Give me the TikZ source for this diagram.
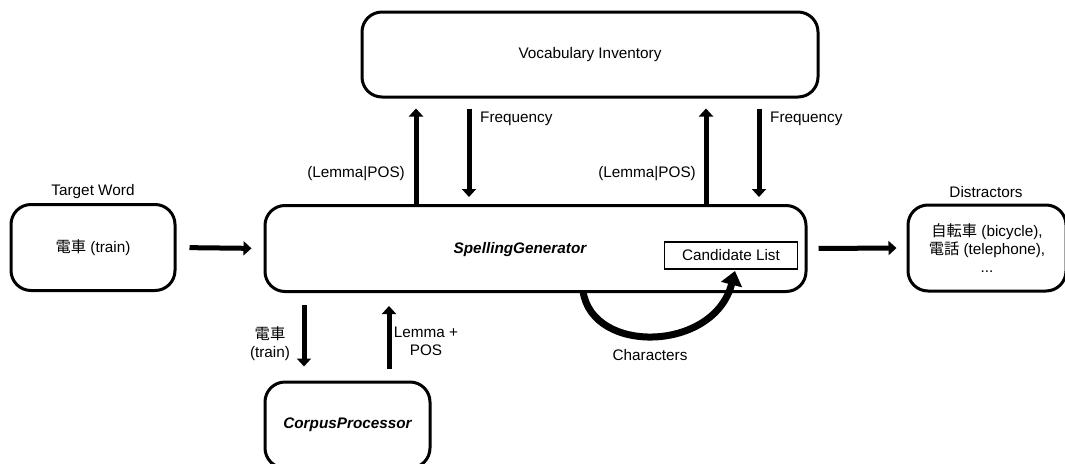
\documentclass[tikz,border=0pt]{standalone}
\usepackage{fontspec}
\setmainfont{Liberation Sans}
\newfontfamily\cjk{Noto Sans CJK JP}
\usetikzlibrary{arrows.meta}
\begin{document}
\begin{tikzpicture}[x=1pt,y=-1pt,
  every node/.style={font=\fontsize{15.3}{18}\selectfont, inner sep=0pt},
  box/.style={draw, line width=3pt, rounded corners=20pt, minimum width=#1, minimum height=86pt},
  arr/.style={line width=5pt, -{Triangle[length=8pt,width=14pt]}},
  bigarr/.style={line width=7pt, -{Triangle[length=14pt,width=21pt]}},
  lbl/.style={align=center}]
\useasboundingbox (0,0) rectangle (1065,463);
\fill[white] (0,0) rectangle (1065,463);
% boxes
\node[box=164pt] (target) at (93,247.5) {{\cjk 電車} (train)};
\node[box=541pt] (sg) at (535.5,248.5) {};
\node[font=\fontsize{15.3}{18}\selectfont\bfseries\itshape] (sgtext) at (520,250) {SpellingGenerator};
\node[box=456pt, minimum height=85pt] (vocab) at (590,54.5) {Vocabulary Inventory};
\node[box=158pt, lbl] (dist) at (987,248) {{\cjk 自転車} (bicycle),\\{\cjk 電話} (telephone),\\...};
\node[box=165pt] (cp) at (347.5,425) {\bfseries\itshape CorpusProcessor};
\node[draw, line width=1.5pt, minimum width=133pt, minimum height=27pt] (cand) at (731,255.5) {Candidate List};
% outer labels
\node (tlabel) at (93,192) {Target Word};
\node (dlabel) at (986,192) {Distractors};
% horizontal arrows
\draw[arr, shorten <=13pt, shorten >=12pt] (target.east) -- (sg.west);
\draw[arr, shorten <=11pt, shorten >=10pt] (sg.east) -- (dist.west);
% vocab arrows
\draw[arr, shorten >=10pt] (416,0 |- sg.north) -- (416,0 |- vocab.south);
\draw[arr, shorten <=10pt, shorten >=7pt] (469,0 |- vocab.south) -- (469,0 |- sg.north);
\draw[arr, shorten >=10pt] (706,0 |- sg.north) -- (706,0 |- vocab.south);
\draw[arr, shorten <=10pt, shorten >=7pt] (759,0 |- vocab.south) -- (759,0 |- sg.north);
\node[anchor=east] (lp1) at (405,174) {(Lemma|POS)};
\node[anchor=east] (lp2) at (696,174) {(Lemma|POS)};
\node[anchor=west] (fq1) at (480,119) {Frequency};
\node[anchor=west] (fq2) at (770,119) {Frequency};
% corpus arrows
\draw[arr, shorten <=12pt, shorten >=14pt] (304,0 |- sg.south) -- (304,0 |- cp.north);
\draw[arr, shorten <=12pt, shorten >=13pt] (389,0 |- cp.north) -- (389,0 |- sg.south);
\node[lbl] (trainlbl) at (270,344) {{\cjk 電車}\\(train)};
\node[lbl] (lemlbl) at (426,341) {Lemma +\\POS};
% characters loop
\coordinate (cstart) at (583,291);
\coordinate (cend) at (735,271);
\draw[bigarr] (cstart) .. controls (592,355) and (714,352) .. (cend);
\node (chars) at (650,355) {Characters};
\end{tikzpicture}
\end{document}
